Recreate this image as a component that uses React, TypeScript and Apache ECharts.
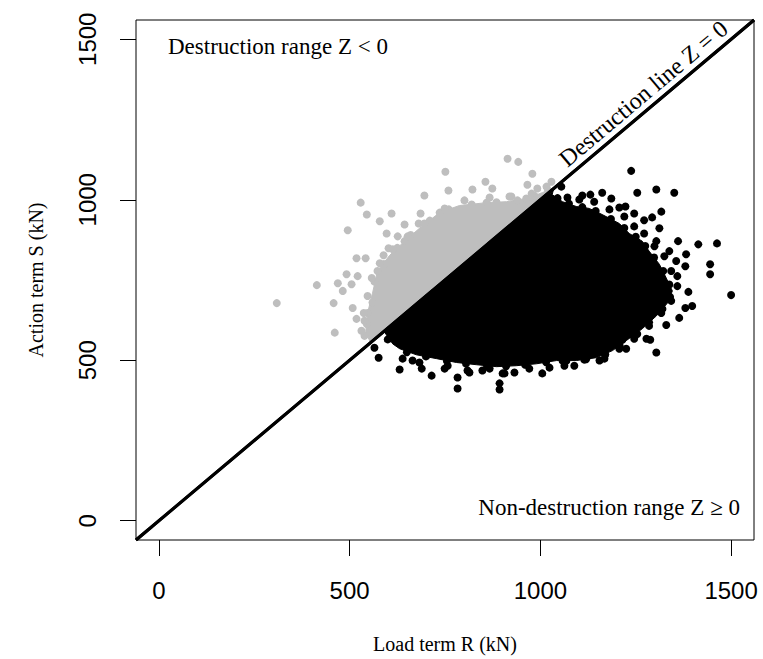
import React, { useEffect, useRef } from "react";
import * as echarts from "echarts";

// Axis ranges and ticks (kN)
const AXIS_MIN = -60;
const AXIS_MAX = 1560;
const tickValues = [0, 500, 1000, 1500];

// Dense core of the failing samples (S > R), [R, S]
const grayCore = [
  [555, 555], [542, 586], [547, 647], [560, 709], [573, 778], [605, 827], [644, 871],
  [683, 911], [736, 960], [788, 982], [859, 991], [911, 994], [963, 1004], [1005, 1022], [1040, 1040],
];

// Dense core of the safe samples (S <= R), [R, S]
const blackCore = [
  [590, 590], [613, 551], [631, 536], [675, 517], [728, 505], [780, 493], [833, 486], [885, 480],
  [937, 483], [990, 489], [1042, 499], [1094, 499], [1147, 508], [1189, 530], [1225, 561],
  [1267, 598], [1304, 638], [1333, 678], [1346, 716], [1330, 756], [1312, 799], [1285, 840],
  [1267, 871], [1233, 895], [1207, 926], [1162, 954], [1128, 973], [1094, 979], [1058, 994],
  [1031, 1016], [1035, 1035],
];

// Individual failing samples outside the dense core
const grayPoints = [
  [696, 1013], [529, 991], [545, 954], [610, 957], [579, 933], [495, 905], [597, 895], [644, 923],
  [686, 957], [681, 926], [626, 886], [518, 818], [542, 818], [589, 827], [602, 849], [492, 768],
  [521, 762], [414, 734], [469, 740], [482, 716], [505, 737], [309, 678], [458, 678], [508, 663],
  [518, 629], [545, 613], [461, 586], [539, 576], [539, 623], [914, 1128], [942, 1118], [751, 1087],
  [979, 1081], [856, 1056], [759, 1029], [966, 1047], [874, 1035], [822, 1032], [1029, 1056],
  [992, 1035], [919, 1010], [560, 680], [565, 745], [590, 800], [625, 850], [660, 890], [710, 935],
  [760, 970], [820, 985], [885, 992], [940, 998], [985, 1012], [1020, 1030], [547, 647], [573, 778],
  [644, 871], [736, 960], [859, 991], [963, 1004], [531, 592], [537, 647], [547, 700], [558, 756],
  [579, 802], [613, 846], [652, 886], [696, 926], [749, 973], [801, 998], [867, 1007], [924, 1010],
  [977, 1019], [1016, 1041],
];

// Individual safe samples outside the dense core
const blackPoints = [
  [1238, 1090], [1254, 1022], [1304, 1032], [1351, 1022], [1110, 1013], [1131, 1016], [1162, 1022],
  [1186, 1004], [1207, 976], [1223, 979], [1317, 963], [1246, 957], [1272, 936], [1293, 945],
  [1312, 911], [1361, 871], [1414, 861], [1463, 864], [1338, 840], [1382, 830], [1356, 809],
  [1380, 793], [1445, 799], [1445, 768], [1359, 762], [1388, 713], [1500, 703], [1304, 871],
  [1398, 669], [1380, 663], [1364, 632], [1330, 610], [1304, 524], [1215, 564], [1225, 536],
  [1254, 582], [1278, 567], [1288, 564], [1168, 505], [1115, 502], [1063, 483], [1005, 459],
  [971, 474], [901, 459], [565, 539], [576, 508], [631, 471], [639, 505], [665, 499], [689, 474],
  [715, 452], [783, 412], [783, 446], [893, 409], [893, 428], [757, 483], [809, 468], [848, 468],
  [906, 459], [1058, 499], [1055, 1041], [600, 565], [650, 525], [700, 512], [755, 498], [805, 490],
  [860, 483], [910, 481], [960, 486], [1015, 494], [1068, 498], [1120, 503], [1170, 518], [1208, 545],
  [1245, 580], [1285, 618], [1320, 660], [1340, 697], [1338, 736], [1322, 778], [1298, 820],
  [1275, 856], [1250, 885], [1220, 912], [1185, 940], [1145, 965], [1110, 977], [1075, 988],
  [1045, 1005], [683, 493], [749, 474], [814, 462], [867, 474], [932, 462], [1024, 477], [1089, 483],
  [1155, 499], [1207, 536], [1246, 567], [1285, 607], [1317, 647], [1343, 685], [1359, 731],
  [1343, 778], [1325, 824], [1299, 855], [1272, 895], [1246, 917], [1220, 948], [1181, 970],
  [1141, 994], [1102, 1001], [1071, 1007],
];

// Limit state line Z = R - S = 0
const zeroLine = [[AXIS_MIN, AXIS_MIN], [AXIS_MAX, AXIS_MAX]];

const SERIF = '"Liberation Serif", "Times New Roman", serif';
const SANS = '"Liberation Sans", Arial, sans-serif';

function polygonSeries(points: number[][], color: string) {
  return {
    type: "custom",
    silent: true,
    clip: true,
    data: [[0, 0]],
    renderItem: (_params: any, api: any) => ({
      type: "polygon",
      shape: { points: points.map((p) => api.coord(p)) },
      style: { fill: color, stroke: color, lineWidth: 1 },
    }),
  };
}

export default function App() {
  const ref = useRef<HTMLDivElement>(null);

  useEffect(() => {
    const chart = echarts.init(ref.current!, null, { renderer: "svg" });
    const axisCommon = {
      type: "value",
      min: AXIS_MIN,
      max: AXIS_MAX,
      nameLocation: "middle",
      nameTextStyle: { fontFamily: SERIF, fontSize: 20, color: "#000" },
      axisLine: { show: false, onZero: false },
      splitLine: { show: false },
      axisTick: {
        show: true,
        inside: false,
        length: 16,
        customValues: tickValues,
        lineStyle: { color: "#000", width: 1 },
      },
    };
    const labelCommon = {
      customValues: tickValues,
      fontFamily: SANS,
      fontSize: 24,
      color: "#000",
      formatter: (v: number) => String(v),
    };
    chart.setOption({
      animation: false,
      backgroundColor: "#fff",
      grid: {
        left: 136,
        right: 9,
        top: 20,
        bottom: 118,
        show: true,
        borderColor: "#000",
        borderWidth: 1,
        backgroundColor: "transparent",
      },
      xAxis: {
        ...axisCommon,
        name: "Load term R (kN)",
        nameGap: 94,
        axisLabel: { ...labelCommon, margin: 38 },
      },
      yAxis: {
        ...axisCommon,
        name: "Action term S (kN)",
        nameGap: 90,
        nameRotate: 90,
        axisLabel: { ...labelCommon, rotate: 90, margin: 37 },
      },
      series: [
        polygonSeries(grayCore, "#BEBEBE"),
        {
          type: "scatter",
          data: grayPoints,
          symbol: "circle",
          symbolSize: 8,
          itemStyle: { color: "#BEBEBE", opacity: 1 },
          silent: true,
        },
        polygonSeries(blackCore, "#000"),
        {
          type: "scatter",
          data: blackPoints,
          symbol: "circle",
          symbolSize: 8,
          itemStyle: { color: "#000", opacity: 1 },
          silent: true,
        },
        {
          type: "line",
          data: zeroLine,
          showSymbol: false,
          silent: true,
          z: 5,
          lineStyle: { color: "#000", width: 3 },
          markLine: {
            silent: true,
            symbol: ["none", "none"],
            lineStyle: { color: "#000", width: 3, type: "solid", opacity: 1 },
            label: {
              show: true,
              position: "insideEndTop",
              formatter: "Destruction line Z = 0",
              fontFamily: SERIF,
              fontSize: 24,
              color: "#000",
              distance: [26, 3],
            },
            data: [[{ coord: zeroLine[0] }, { coord: zeroLine[1] }]],
          },
        },
      ],
      graphic: [
        {
          type: "text",
          left: 168,
          top: 35,
          style: { text: "Destruction range Z < 0", font: `23px ${SERIF}`, fill: "#000" },
        },
        {
          type: "text",
          right: 23,
          top: 496,
          style: { text: "Non-destruction range Z \u2265 0", font: `23px ${SERIF}`, fill: "#000" },
        },
      ],
    });
    return () => chart.dispose();
  }, []);

  return (
    <div
      ref={ref}
      style={{ position: "fixed", left: 0, top: 0, width: 763, height: 659, background: "#fff" }}
    />
  );
}
